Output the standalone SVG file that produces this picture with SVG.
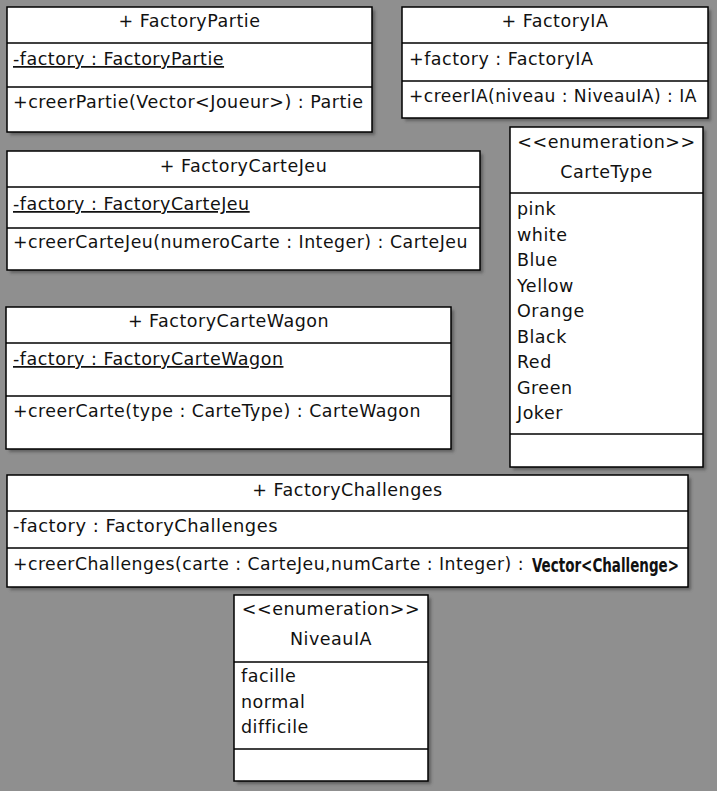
<svg xmlns="http://www.w3.org/2000/svg" width="717" height="791" viewBox="0 0 717 791">
<style>
  .box{fill:#ffffff;stroke:#000000;stroke-width:1.5}
  .sep{stroke:#000000;stroke-width:1.5}
  .shadow{fill:#3a3a3a;opacity:0.55;filter:url(#blur)}
  text{font-family:"DejaVu Sans","Liberation Sans",sans-serif;font-size:17.5px;letter-spacing:0.5px;fill:#111111}
  .c{text-anchor:middle}
  .u{text-decoration:underline}
  .cond{font-family:"DejaVu Sans Condensed","Liberation Sans Narrow","DejaVu Sans",sans-serif;font-weight:bold;font-size:19px;letter-spacing:0}
</style>
<defs>
  <filter id="blur" x="-5%" y="-5%" width="110%" height="110%"><feGaussianBlur stdDeviation="1.5"/></filter>
</defs>
<rect x="0" y="0" width="717" height="791" fill="#8f8f8f"/>

<g id="FactoryPartie">
  <rect class="shadow" x="10" y="10" width="365" height="125"/>
  <rect class="box" x="7" y="7" width="365" height="125"/>
  <line class="sep" x1="7" y1="43" x2="372" y2="43"/>
  <line class="sep" x1="7" y1="87" x2="372" y2="87"/>
  <text class="c" x="189.5" y="27">+ FactoryPartie</text>
  <text class="u" x="13" y="65">-factory : FactoryPartie</text>
  <text x="13" y="108">+creerPartie(Vector&lt;Joueur&gt;) : Partie</text>
</g>

<g id="FactoryIA">
  <rect class="shadow" x="405" y="10" width="306" height="111"/>
  <rect class="box" x="402" y="7" width="306" height="111"/>
  <line class="sep" x1="402" y1="43" x2="708" y2="43"/>
  <line class="sep" x1="402" y1="81" x2="708" y2="81"/>
  <text class="c" x="555" y="27">+ FactoryIA</text>
  <text x="409" y="65">+factory : FactoryIA</text>
  <text x="409" y="102" textLength="288" lengthAdjust="spacingAndGlyphs">+creerIA(niveau : NiveauIA) : IA</text>
</g>

<g id="FactoryCarteJeu">
  <rect class="shadow" x="10" y="154" width="473" height="119"/>
  <rect class="box" x="7" y="151" width="473" height="119"/>
  <line class="sep" x1="7" y1="187" x2="480" y2="187"/>
  <line class="sep" x1="7" y1="228" x2="480" y2="228"/>
  <text class="c" x="243.5" y="172">+ FactoryCarteJeu</text>
  <text class="u" x="13" y="210">-factory : FactoryCarteJeu</text>
  <text x="13" y="248" textLength="455" lengthAdjust="spacingAndGlyphs">+creerCarteJeu(numeroCarte : Integer) : CarteJeu</text>
</g>

<g id="CarteType">
  <rect class="shadow" x="513" y="130" width="193" height="340"/>
  <rect class="box" x="510" y="127" width="193" height="340"/>
  <line class="sep" x1="510" y1="193" x2="703" y2="193"/>
  <line class="sep" x1="510" y1="434" x2="703" y2="434"/>
  <text class="c" x="606.5" y="148">&lt;&lt;enumeration&gt;&gt;</text>
  <text class="c" x="606.5" y="178">CarteType</text>
  <text x="517" y="215">pink</text>
  <text x="517" y="240.5">white</text>
  <text x="517" y="266">Blue</text>
  <text x="517" y="291.5">Yellow</text>
  <text x="517" y="317">Orange</text>
  <text x="517" y="342.5">Black</text>
  <text x="517" y="368">Red</text>
  <text x="517" y="393.5">Green</text>
  <text x="517" y="419">Joker</text>
</g>

<g id="FactoryCarteWagon">
  <rect class="shadow" x="9" y="310" width="445" height="142"/>
  <rect class="box" x="6" y="307" width="445" height="142"/>
  <line class="sep" x1="6" y1="343" x2="451" y2="343"/>
  <line class="sep" x1="6" y1="396" x2="451" y2="396"/>
  <text class="c" x="228.5" y="327">+ FactoryCarteWagon</text>
  <text class="u" x="13" y="365">-factory : FactoryCarteWagon</text>
  <text x="13" y="417" textLength="408" lengthAdjust="spacingAndGlyphs">+creerCarte(type : CarteType) : CarteWagon</text>
</g>

<g id="FactoryChallenges">
  <rect class="shadow" x="10" y="478" width="681" height="112"/>
  <rect class="box" x="7" y="475" width="681" height="112"/>
  <line class="sep" x1="7" y1="511" x2="688" y2="511"/>
  <line class="sep" x1="7" y1="548" x2="688" y2="548"/>
  <text class="c" x="347.5" y="496">+ FactoryChallenges</text>
  <text x="13" y="532" textLength="265" lengthAdjust="spacingAndGlyphs">-factory : FactoryChallenges</text>
  <text x="13" y="570" textLength="511" lengthAdjust="spacingAndGlyphs">+creerChallenges(carte : CarteJeu,numCarte : Integer) :</text>
  <text class="cond" x="532" y="572" textLength="147" lengthAdjust="spacingAndGlyphs">Vector&lt;Challenge&gt;</text>
</g>

<g id="NiveauIA">
  <rect class="shadow" x="237" y="598" width="194" height="186"/>
  <rect class="box" x="234" y="595" width="194" height="186"/>
  <line class="sep" x1="234" y1="662" x2="428" y2="662"/>
  <line class="sep" x1="234" y1="749" x2="428" y2="749"/>
  <text class="c" x="331" y="615">&lt;&lt;enumeration&gt;&gt;</text>
  <text class="c" x="331" y="645">NiveauIA</text>
  <text x="241" y="682">facille</text>
  <text x="241" y="708">normal</text>
  <text x="241" y="733">difficile</text>
</g>

<g id="connectors"></g>
</svg>
